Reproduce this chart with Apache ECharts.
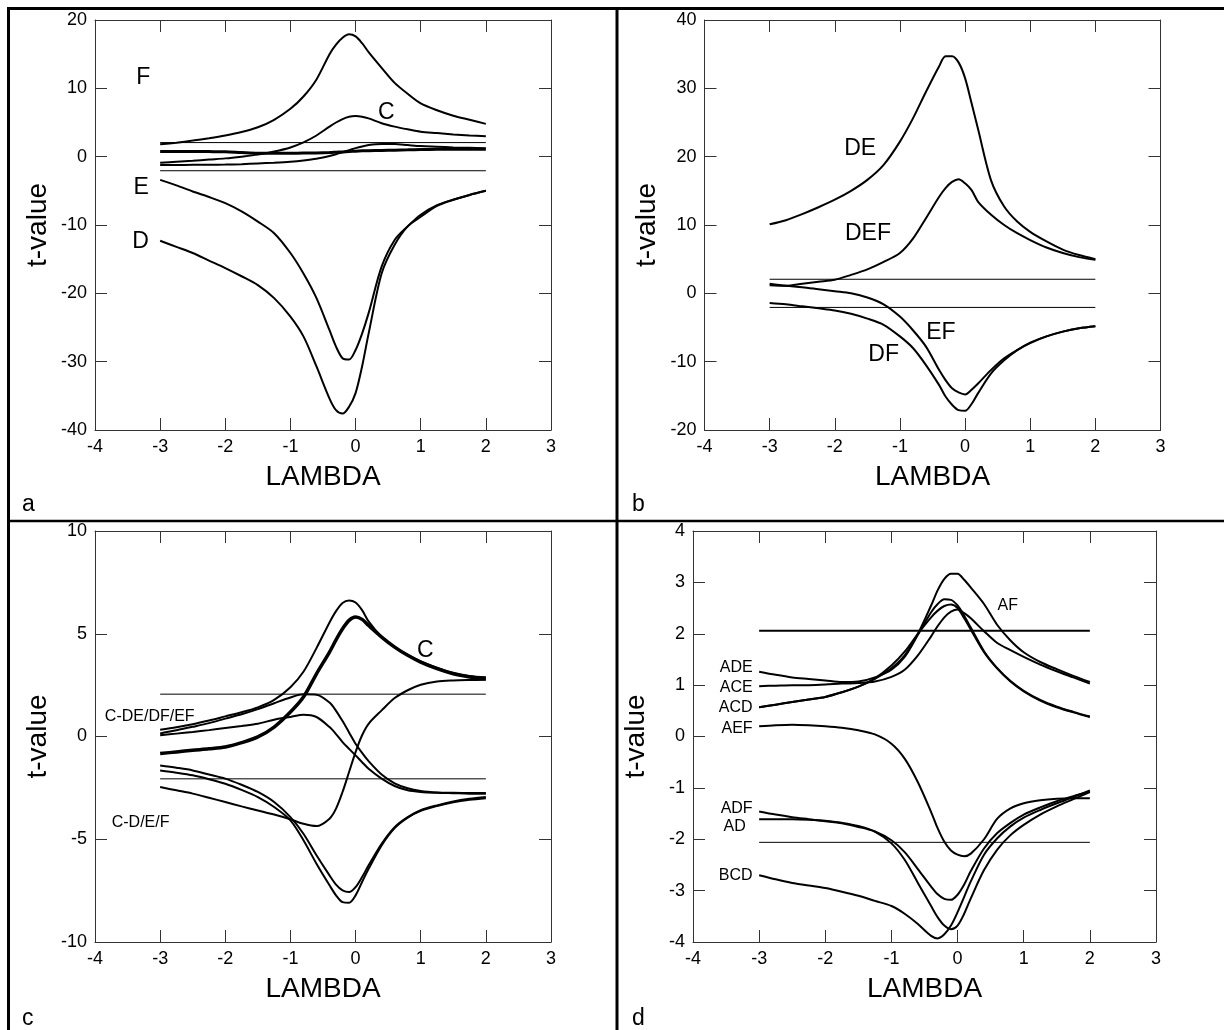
<!DOCTYPE html>
<html><head><meta charset="utf-8">
<script src="https://cdn.jsdelivr.net/npm/echarts/dist/echarts.min.js"></script>
<style>html,body{margin:0;padding:0;background:#fff}#c{width:1224px;height:1030px}</style>
</head><body><div id="c"></div><script>
// ---------- data ----------
const LAMBDA = [-3,-2.75,-2.5,-2.25,-2,-1.75,-1.5,-1.25,-1,-0.8,-0.6,-0.4,-0.3,-0.2,-0.1,0,0.1,0.2,0.4,0.6,0.8,1,1.25,1.5,1.75,2];
const REF_X = [-3, 2];
const T_CRIT = 2.06;

// panel a
const A_F = [1.8,2.05,2.35,2.7,3.1,3.6,4.3,5.4,7.0,8.8,11.3,15.0,16.4,17.4,17.9,17.6,16.6,15.3,13.0,10.8,9.2,7.8,6.8,6.0,5.4,4.8];
const A_C = [-0.9,-0.75,-0.6,-0.42,-0.25,0.0,0.3,0.75,1.35,2.1,3.1,4.4,5.0,5.5,5.85,5.95,5.85,5.6,4.9,4.4,4.0,3.65,3.45,3.25,3.1,3.0];
const A_G = [-1.22,-1.22,-1.2,-1.18,-1.15,-1.1,-1.0,-0.88,-0.73,-0.55,-0.3,0.1,0.35,0.65,0.95,1.25,1.5,1.7,1.85,1.85,1.7,1.55,1.45,1.35,1.3,1.25];
const A_H = [0.75,0.75,0.75,0.74,0.72,0.6,0.5,0.5,0.5,0.52,0.55,0.6,0.65,0.7,0.75,0.8,0.85,0.88,0.92,0.95,1.0,1.05,1.07,1.08,1.09,1.1];
const A_E = [-3.4,-4.2,-5.1,-5.9,-6.8,-8.0,-9.5,-11.2,-14.1,-17.1,-20.7,-25.4,-27.8,-29.5,-29.7,-28.3,-25.9,-22.9,-16.1,-12.2,-10.2,-8.5,-7.1,-6.3,-5.6,-5.0];
const A_D = [-12.3,-13.2,-14.1,-15.2,-16.3,-17.5,-18.8,-20.7,-23.4,-26.3,-30.7,-35.4,-37.1,-37.6,-36.6,-34.6,-30.7,-25.9,-17.1,-12.9,-10.2,-8.8,-7.2,-6.3,-5.6,-5.0];
const A_LABELS = ['F','E','D','C'];
const A_LABEL_X = [-3.26,-3.29,-3.3,0.47];
const A_LABEL_Y = [11.5,-4.5,-12.5,6.5];

// panel b
const B_DE = [10.1,10.7,11.6,12.6,13.7,15.0,16.6,18.8,22.2,25.6,29.5,33.2,34.7,34.7,33.8,31.5,27.8,24.0,16.5,12.7,10.5,9.0,7.6,6.4,5.6,5.0];
const B_DEF = [1.2,1.1,1.4,1.7,2.0,2.7,3.5,4.6,5.9,8.0,11.0,14.1,15.4,16.3,16.7,16.1,15.1,13.4,11.5,10.0,8.8,7.8,6.7,5.9,5.3,4.9];
const B_EF = [1.4,1.1,0.9,0.6,0.3,0.0,-0.6,-1.6,-3.4,-5.4,-7.8,-11.2,-12.7,-13.9,-14.5,-14.8,-14.1,-13.2,-11.2,-9.5,-8.3,-7.3,-6.3,-5.6,-5.1,-4.8];
const B_DF = [-1.4,-1.6,-1.9,-2.2,-2.5,-3.0,-3.7,-4.6,-6.3,-8.0,-10.5,-13.4,-15.1,-16.3,-17.1,-17.2,-16.2,-14.6,-11.7,-9.8,-8.3,-7.2,-6.3,-5.6,-5.1,-4.8];
const B_LABELS = ['DE','DEF','EF','DF'];
const B_LABEL_X = [-1.61,-1.49,-0.37,-1.25];
const B_LABEL_Y = [21.1,8.8,-5.7,-9.0];

// panel c
const C_C = [-0.83,-0.75,-0.67,-0.6,-0.51,-0.3,-0.02,0.46,1.19,1.92,3.05,4.11,4.7,5.24,5.65,5.81,5.7,5.4,4.84,4.35,3.95,3.62,3.3,3.05,2.9,2.81];
const C_U = [0.33,0.45,0.6,0.78,0.98,1.18,1.42,1.78,2.4,3.15,4.3,5.55,6.1,6.5,6.62,6.52,6.15,5.6,4.85,4.35,3.97,3.65,3.35,3.1,2.95,2.88];
const C_2 = [0.15,0.3,0.47,0.65,0.87,1.08,1.33,1.62,1.9,2.05,2.03,1.65,1.25,0.75,0.2,-0.35,-0.8,-1.2,-1.85,-2.28,-2.52,-2.65,-2.72,-2.74,-2.75,-2.75];
const C_3 = [0.06,0.14,0.22,0.31,0.41,0.51,0.62,0.82,0.95,1.06,0.95,0.46,0.12,-0.27,-0.6,-0.92,-1.25,-1.57,-2.05,-2.41,-2.62,-2.7,-2.74,-2.76,-2.78,-2.78];
const C_4 = [-1.41,-1.52,-1.65,-1.85,-2.05,-2.35,-2.7,-3.19,-3.92,-4.73,-5.78,-6.76,-7.21,-7.49,-7.57,-7.33,-6.84,-6.27,-5.22,-4.41,-3.92,-3.59,-3.35,-3.16,-3.03,-2.94];
const C_5 = [-1.65,-1.76,-1.89,-2.08,-2.3,-2.6,-2.95,-3.43,-4.08,-5.05,-6.19,-7.24,-7.73,-8.06,-8.09,-7.73,-7.08,-6.44,-5.3,-4.46,-3.95,-3.62,-3.38,-3.2,-3.08,-3.0];
const C_6 = [-2.46,-2.62,-2.78,-2.98,-3.19,-3.4,-3.6,-3.8,-4.03,-4.25,-4.36,-4.0,-3.51,-2.7,-1.73,-0.76,0.06,0.62,1.27,1.87,2.25,2.52,2.68,2.73,2.75,2.76];
const C_LABELS = ['C-DE/DF/EF','C-D/E/F'];
const C_LABEL_X = [-3.16,-3.3];
const C_LABEL_Y = [0.96,-4.2];
const C_BIG_LABELS = ['C'];
const C_BIG_LABEL_X = [1.07];
const C_BIG_LABEL_Y = [4.2];

// panel d
const D_AF  = [0.57,0.62,0.67,0.72,0.77,0.86,0.97,1.12,1.33,1.58,2.0,2.55,2.85,3.07,3.17,3.17,3.05,2.9,2.58,2.17,1.87,1.64,1.45,1.31,1.18,1.06];
const D_ACD = [0.57,0.62,0.67,0.72,0.77,0.86,0.97,1.13,1.38,1.65,2.0,2.32,2.45,2.54,2.57,2.5,2.3,2.08,1.64,1.32,1.07,0.88,0.7,0.57,0.47,0.38];
const D_ADE = [1.26,1.2,1.15,1.12,1.09,1.06,1.07,1.15,1.3,1.55,1.98,2.42,2.58,2.67,2.66,2.55,2.35,2.12,1.66,1.33,1.08,0.89,0.71,0.58,0.48,0.39];
const D_ACE = [0.98,0.99,1.0,1.0,1.01,1.03,1.04,1.07,1.16,1.3,1.58,1.95,2.15,2.32,2.43,2.47,2.4,2.3,2.05,1.82,1.68,1.55,1.4,1.27,1.15,1.03];
const D_AEF = [0.2,0.22,0.23,0.22,0.2,0.17,0.12,0.04,-0.14,-0.43,-0.89,-1.47,-1.79,-2.05,-2.22,-2.3,-2.33,-2.28,-2.0,-1.6,-1.4,-1.3,-1.24,-1.21,-1.2,-1.2];
const D_ADF = [-1.46,-1.52,-1.57,-1.61,-1.65,-1.69,-1.76,-1.85,-2.02,-2.25,-2.58,-2.92,-3.07,-3.16,-3.18,-3.08,-2.88,-2.62,-2.18,-1.88,-1.68,-1.52,-1.38,-1.26,-1.16,-1.07];
const D_AD  = [-1.61,-1.61,-1.61,-1.62,-1.64,-1.68,-1.74,-1.85,-2.08,-2.4,-2.85,-3.3,-3.52,-3.68,-3.75,-3.68,-3.45,-3.15,-2.6,-2.2,-1.92,-1.72,-1.52,-1.36,-1.22,-1.08];
const D_BCD = [-2.7,-2.78,-2.85,-2.9,-2.95,-3.02,-3.1,-3.2,-3.3,-3.45,-3.65,-3.88,-3.93,-3.85,-3.68,-3.42,-3.12,-2.82,-2.3,-1.98,-1.75,-1.58,-1.43,-1.3,-1.18,-1.05];
const D_LEFT_LABELS = ['ADE','ACE','ACD','AEF','ADF','BCD'];
const D_LEFT_LABEL_Y = [1.35,0.95,0.57,0.16,-1.41,-2.7];
const D_MID_LABELS = ['AD','AF'];
const D_MID_LABEL_X = [-3.37,0.76];
const D_MID_LABEL_Y = [-1.76,2.55];

// ---------- chart ----------
const FONT = '"Liberation Sans", Arial, Helvetica, sans-serif';
const AXC = '#333';
const chart = echarts.init(document.getElementById('c'), null, {renderer: 'canvas'});

const grids = [
  {left: 95, top: 20, width: 456, height: 410},
  {left: 704.5, top: 20, width: 456, height: 410},
  {left: 95, top: 531, width: 456, height: 411},
  {left: 693, top: 531, width: 463, height: 411}
];
const yRanges = [[-40, 20, 10], [-20, 40, 10], [-10, 10, 5], [-4, 4, 1]];

const xAxes = [], yAxes = [];
grids.forEach((g, gi) => {
  const lineStyle = {color: AXC, width: 1};
  const tick = {show: true, inside: true, length: 12, lineStyle: {color: AXC, width: 1}};
  xAxes.push({gridIndex: gi, type: 'value', min: -4, max: 3, interval: 1, position: 'bottom',
    axisLine: {show: true, onZero: false, lineStyle}, axisTick: tick,
    axisLabel: {color: '#000', fontSize: 18, margin: 8, fontFamily: FONT},
    splitLine: {show: false},
    name: 'LAMBDA', nameLocation: 'middle', nameGap: 33,
    nameTextStyle: {fontSize: 28, color: '#000', fontFamily: FONT}});
  xAxes.push({gridIndex: gi, type: 'value', min: -4, max: 3, interval: 1, position: 'top',
    axisLine: {show: true, onZero: false, lineStyle}, axisTick: tick,
    axisLabel: {show: false}, splitLine: {show: false}});
  const [mn, mx, iv] = yRanges[gi];
  yAxes.push({gridIndex: gi, type: 'value', min: mn, max: mx, interval: iv, position: 'left',
    axisLine: {show: true, onZero: false, lineStyle}, axisTick: tick,
    axisLabel: {color: '#000', fontSize: 18, margin: 8, fontFamily: FONT},
    splitLine: {show: false},
    name: 't-value', nameLocation: 'middle', nameGap: 43,
    nameTextStyle: {fontSize: 28, color: '#000', fontFamily: FONT}});
  yAxes.push({gridIndex: gi, type: 'value', min: mn, max: mx, interval: iv, position: 'right',
    axisLine: {show: true, onZero: false, lineStyle}, axisTick: tick,
    axisLabel: {show: false}, splitLine: {show: false}});
});

function curve(gi, arr, w) {
  return {type: 'line', xAxisIndex: gi * 2, yAxisIndex: gi * 2,
    data: LAMBDA.map((x, i) => [x, arr[i]]), symbol: 'none', smooth: 0.3,
    lineStyle: {color: '#000', width: w || 2}, silent: true, z: 3};
}
function refLine(gi, v, w) {
  return {type: 'line', xAxisIndex: gi * 2, yAxisIndex: gi * 2,
    data: REF_X.map(x => [x, v]), symbol: 'none',
    lineStyle: {color: '#000', width: w || 1}, silent: true, z: 2};
}
function labels(gi, names, xs, ys, size, pos) {
  return {type: 'scatter', xAxisIndex: gi * 2, yAxisIndex: gi * 2,
    data: names.map((n, i) => [xs[i], ys[i]]), symbolSize: 1,
    itemStyle: {color: 'rgba(255,255,255,0)', opacity: 1}, silent: true, z: 5,
    label: {show: true, position: pos || 'inside', distance: 6, opacity: 1,
      textBorderWidth: 0, textShadowBlur: 0,
      formatter: p => names[p.dataIndex], color: '#000', fontSize: size, fontFamily: FONT}};
}

const series = [
  // a
  refLine(0, T_CRIT), refLine(0, -T_CRIT),
  curve(0, A_F), curve(0, A_C), curve(0, A_G), curve(0, A_H, 3), curve(0, A_E), curve(0, A_D),
  labels(0, A_LABELS, A_LABEL_X, A_LABEL_Y, 23),
  // b
  refLine(1, T_CRIT), refLine(1, -T_CRIT),
  curve(1, B_DE), curve(1, B_DEF), curve(1, B_EF), curve(1, B_DF),
  labels(1, B_LABELS, B_LABEL_X, B_LABEL_Y, 23),
  // c
  refLine(2, T_CRIT), refLine(2, -T_CRIT),
  curve(2, C_U), curve(2, C_2), curve(2, C_3), curve(2, C_4), curve(2, C_5), curve(2, C_6), curve(2, C_C, 3.5),
  labels(2, C_LABELS, C_LABEL_X, C_LABEL_Y, 16),
  labels(2, C_BIG_LABELS, C_BIG_LABEL_X, C_BIG_LABEL_Y, 23),
  // d
  refLine(3, T_CRIT, 2), refLine(3, -T_CRIT),
  curve(3, D_AF), curve(3, D_ACD), curve(3, D_ADE), curve(3, D_ACE),
  curve(3, D_AEF), curve(3, D_ADF), curve(3, D_AD), curve(3, D_BCD),
  labels(3, D_LEFT_LABELS, D_LEFT_LABELS.map(() => -3), D_LEFT_LABEL_Y, 16, 'left'),
  labels(3, D_MID_LABELS, D_MID_LABEL_X, D_MID_LABEL_Y, 16)
];

const frame = [
  [7, 8.5, 1224, 8.5], [8.5, 7, 8.5, 1030],
  [617, 7, 617, 1030], [7, 521, 1224, 521]
].map(s => ({type: 'line', silent: true, z: 10,
  shape: {x1: s[0], y1: s[1], x2: s[2], y2: s[3]},
  style: {stroke: '#000', lineWidth: s[1] === s[3] && s[1] > 100 ? 2.5 : 3}}));
const letters = [['a', 22, 516], ['b', 632, 516], ['c', 22, 1030], ['d', 632, 1030]].map(l => ({
  type: 'text', silent: true, z: 10, x: l[1], y: l[2],
  style: {text: l[0], fontSize: 23, fontFamily: FONT, fill: '#000', align: 'left', verticalAlign: 'bottom'}}));

chart.setOption({
  animation: false,
  backgroundColor: '#fff',
  grid: grids,
  xAxis: xAxes,
  yAxis: yAxes,
  series,
  graphic: frame.concat(letters)
});
</script></body></html>
